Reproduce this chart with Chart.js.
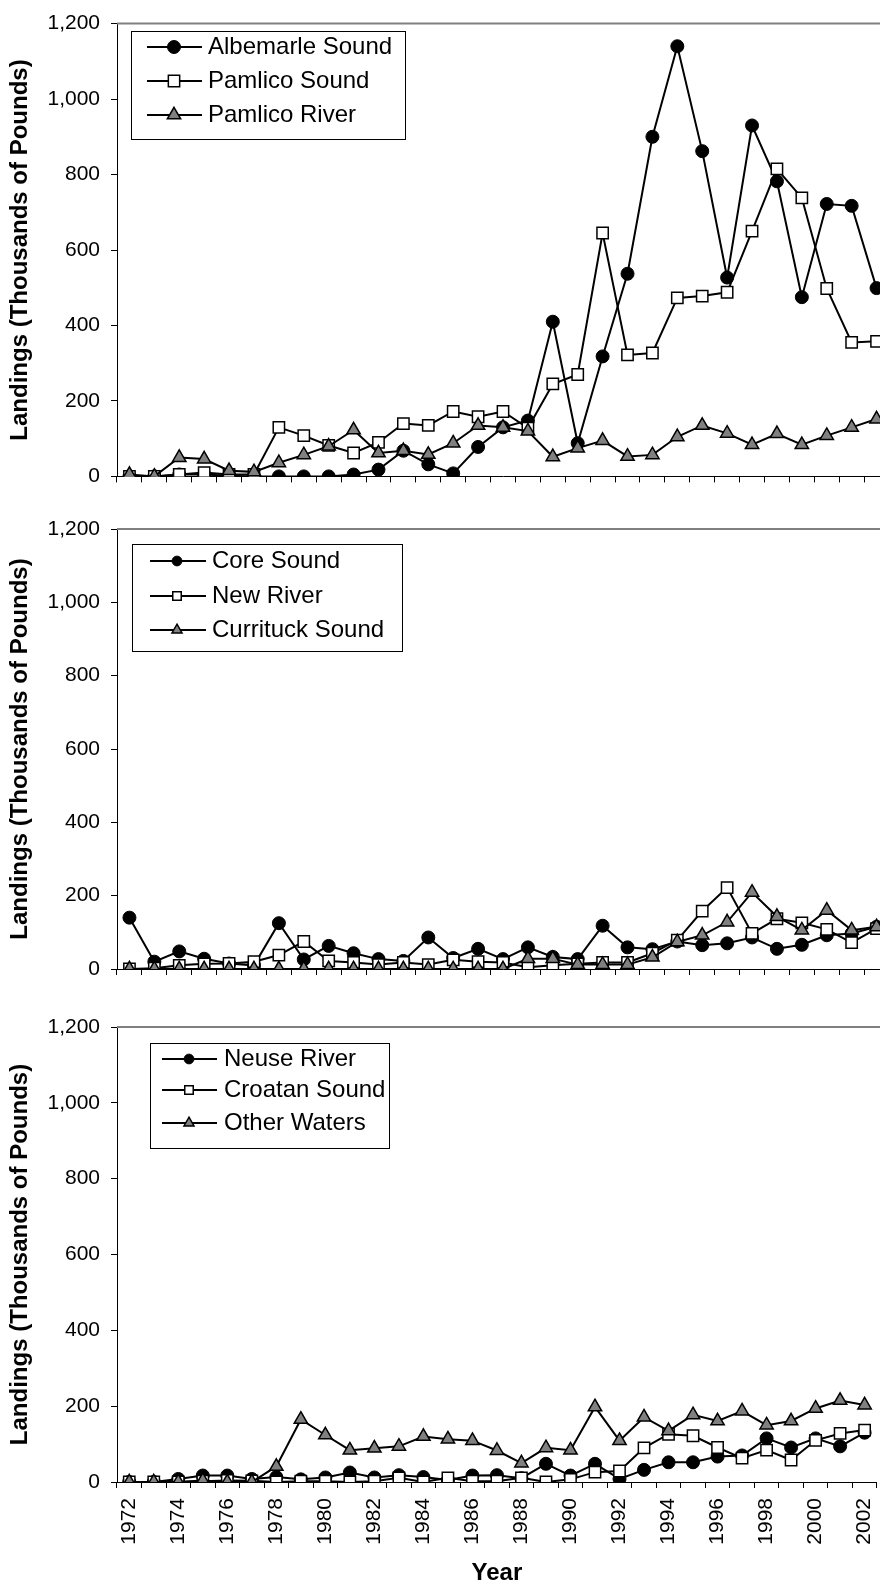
<!DOCTYPE html>
<html><head><meta charset="utf-8">
<script src="https://cdn.jsdelivr.net/npm/chart.js@4/dist/chart.umd.min.js"></script>
<style>
html,body{margin:0;padding:0;background:#fff;}
#wrap{position:relative;width:880px;height:1585px;overflow:hidden;background:#fff;}
canvas{position:absolute;left:0;}
</style></head><body><div id="wrap">
<canvas id="c1" width="900" height="500" style="top:0px;width:900px;height:500px"></canvas>
<canvas id="c2" width="900" height="495" style="top:500px;width:900px;height:495px"></canvas>
<canvas id="c3" width="900" height="590" style="top:995px;width:900px;height:590px"></canvas>
</div>
<script>
// ---- categories ----
const years = ['1972','1973','1974','1975','1976','1977','1978','1979','1980','1981','1982','1983','1984','1985','1986','1987','1988','1989','1990','1991','1992','1993','1994','1995','1996','1997','1998','1999','2000','2001','2002'];
const xTickLabels = ['1972','','1974','','1976','','1978','','1980','','1982','','1984','','1986','','1988','','1990','','1992','','1994','','1996','','1998','','2000','','2002'];
const yTickValues = [0,200,400,600,800,1000,1200];

// ---- panel 1 ----
const albemarleSound = [0,0,5,5,2,0,0,0,0,5,18,68,32,8,78,130,148,410,88,318,537,900,1140,862,527,930,782,475,722,717,499];
const pamlicoSound   = [0,0,5,10,5,5,130,108,82,62,90,140,135,172,158,172,128,245,270,645,322,327,473,478,488,650,815,738,498,355,358];
const pamlicoRiver   = [5,0,50,46,15,12,36,57,80,123,62,68,58,88,135,130,120,52,75,95,53,57,105,135,114,84,113,84,108,130,152];

// ---- panel 2 ----
const coreSound      = [140,20,48,28,15,10,125,26,63,43,27,22,86,30,55,27,59,33,27,118,59,54,75,65,70,86,55,66,92,97,115];
const newRiver       = [0,2,10,14,15,20,38,75,22,18,12,18,12,25,20,18,5,10,14,18,18,43,79,158,222,97,137,126,108,72,110];
const currituckSound = [0,0,0,0,0,0,0,0,0,0,0,0,0,0,0,0,28,28,12,12,12,32,74,92,128,209,143,106,160,106,115];

// ---- panel 3 ----
const neuseRiver     = [0,0,8,17,17,8,13,7,12,25,12,18,13,5,17,18,10,48,17,48,8,32,52,52,67,70,115,91,115,94,130];
const croatanSound   = [0,0,0,2,4,3,0,2,2,0,2,11,0,11,2,2,11,0,7,26,29,90,126,122,91,63,84,58,110,128,137];
const otherWaters    = [0,0,0,4,0,0,41,165,124,84,89,94,120,113,109,83,50,90,84,198,109,171,135,177,161,187,150,161,194,215,203];

const FONT = '"Liberation Sans", Arial, sans-serif';

const styleCircle   = {pointStyle:'circle',  pointRadius:6.5, pointBackgroundColor:'#000',    pointBorderColor:'#000', pointBorderWidth:1,   order:3};
const styleSquare   = {pointStyle:'rect',    pointRadius:8,   pointBackgroundColor:'#fff',    pointBorderColor:'#000', pointBorderWidth:1.5, order:2};
const styleTriangle = {pointStyle:'triangle',pointRadius:7.7, pointBackgroundColor:'#808080', pointBorderColor:'#000', pointBorderWidth:1.5, order:1};

function ds(label, data, st){
  return Object.assign({label, data, borderColor:'#000', borderWidth:2, fill:false, tension:0, pointHoverRadius:st.pointRadius}, st);
}

const boxLegend = {
  id:'boxLegend',
  afterDatasetsDraw(chart, args, o){
    const ctx = chart.ctx; ctx.save();
    ctx.fillStyle='#fff'; ctx.fillRect(o.x,o.y,o.w,o.h);
    ctx.strokeStyle='#000'; ctx.lineWidth=1; ctx.strokeRect(o.x+0.5,o.y+0.5,o.w,o.h);
    chart.data.datasets.forEach((d,i)=>{
      const y=o.rows[i];
      ctx.beginPath(); ctx.moveTo(o.lx1,y); ctx.lineTo(o.lx2,y);
      ctx.lineWidth=2; ctx.strokeStyle='#000'; ctx.stroke();
      ctx.fillStyle=d.pointBackgroundColor; ctx.strokeStyle=d.pointBorderColor; ctx.lineWidth=d.pointBorderWidth;
      Chart.helpers.drawPoint(ctx,{pointStyle:d.pointStyle,radius:d.pointRadius*o.ms,borderWidth:d.pointBorderWidth,rotation:0},o.mx,y);
      ctx.fillStyle='#000'; ctx.font='24px '+FONT; ctx.textBaseline='middle'; ctx.textAlign='left';
      ctx.fillText(d.label,o.tx,y);
    });
    ctx.restore();
  }
};
const topBorder = {
  id:'topBorder',
  beforeDatasetsDraw(chart){
    const {ctx, chartArea:a} = chart; ctx.save();
    ctx.strokeStyle='#808080'; ctx.lineWidth=2;
    ctx.beginPath(); ctx.moveTo(a.left,a.top); ctx.lineTo(chart.width,a.top); ctx.stroke();
    ctx.restore();
  }
};

function makePanel(id, datasets, cfg){
  new Chart(document.getElementById(id), {
    type:'line',
    data:{labels:years, datasets},
    plugins:[topBorder, boxLegend],
    options:{
      responsive:false, animation:false, devicePixelRatio:1,
      layout:{padding:{top:cfg.padTop,right:11,left:0,bottom:0}},
      plugins:{legend:{display:false}, tooltip:{enabled:false}, boxLegend:cfg.legend},
      scales:{
        x:{
          type:'category', offset:true,
          grid:{display:true, offset:true, drawOnChartArea:false, drawTicks:true, tickLength:6, color:'#000', lineWidth:1},
          border:{display:true, color:'#000', width:1},
          ticks:{display:cfg.showX, autoSkip:false, maxRotation:90, minRotation:90, padding:10, color:'#000',
                 font:{family:FONT,size:21}, callback:(v,i)=>xTickLabels[i]},
          title:{display:cfg.showX, text:'Year', color:'#000', font:{family:FONT,size:24,weight:'bold',lineHeight:1}, padding:{top:0,bottom:0}},
          afterFit:(s)=>{s.height=cfg.xh;}
        },
        y:{
          min:0, max:1200,
          afterBuildTicks:(s)=>{s.ticks=yTickValues.map(v=>({value:v}));},
          ticks:{padding:11, color:'#000', font:{family:FONT,size:21}, callback:(v)=>Number(v).toLocaleString('en-US')},
          grid:{display:true, drawOnChartArea:false, drawTicks:true, tickLength:6, color:'#000', lineWidth:1},
          border:{display:true, color:'#000', width:1},
          title:{display:true, text:'Landings (Thousands of Pounds)', color:'#000', font:{family:FONT,size:24,weight:'bold',lineHeight:1}, padding:{top:8,bottom:0}},
          afterFit:(s)=>{s.width=117;}
        }
      }
    }
  });
}

makePanel('c1', [ds('Albemarle Sound',albemarleSound,styleCircle), ds('Pamlico Sound',pamlicoSound,styleSquare), ds('Pamlico River',pamlicoRiver,styleTriangle)],
  {padTop:17, xh:20, showX:false, legend:{x:131,y:31,w:274,h:108,rows:[47,81,115],lx1:147,lx2:202,mx:174,tx:208,ms:1}});
makePanel('c2', [ds('Core Sound',coreSound,styleCircle), ds('New River',newRiver,styleSquare), ds('Currituck Sound',currituckSound,styleTriangle)],
  {padTop:29, xh:26, showX:false, legend:{x:132,y:44,w:270,h:107,rows:[61,96,130],lx1:150,lx2:206,mx:177,tx:212,ms:0.75}});
makePanel('c3', [ds('Neuse River',neuseRiver,styleCircle), ds('Croatan Sound',croatanSound,styleSquare), ds('Other Waters',otherWaters,styleTriangle)],
  {padTop:32, xh:103, showX:true, legend:{x:150,y:48,w:239,h:105,rows:[64,95,128],lx1:162,lx2:217,mx:189,tx:224,ms:0.75}});
</script>
</body></html>
